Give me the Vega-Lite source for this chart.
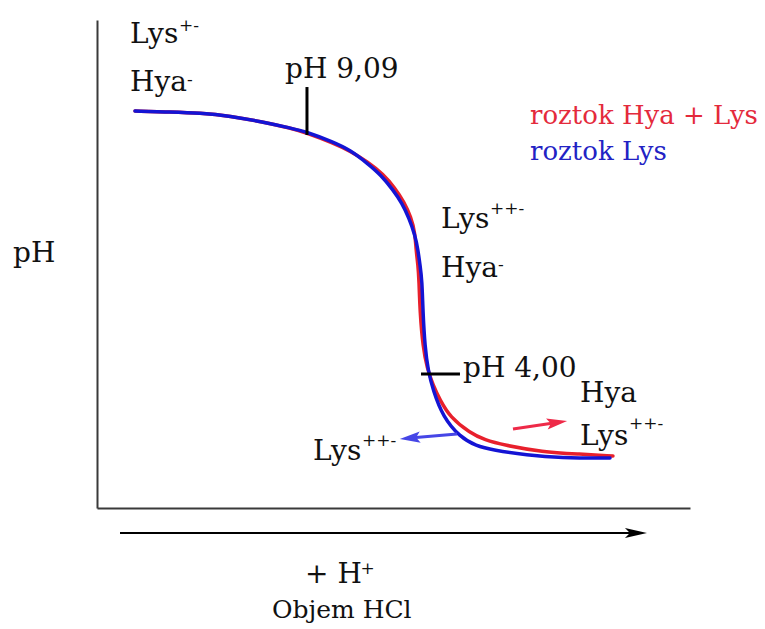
{
  "$schema": "https://vega.github.io/schema/vega-lite/v6.json",
  "width": 593,
  "height": 488,
  "autosize": "none",
  "padding": {"left": 97, "top": 20, "right": 75, "bottom": 121},
  "background": "white",
  "config": {"view": {"stroke": null}, "text": {"font": "DejaVu Serif"}},
  "datasets": {
    "hyalys": [
      {"v": 0.641, "ph": 9.498}, {"v": 1.231, "ph": 9.477}, {"v": 1.737, "ph": 9.456}, {"v": 2.243, "ph": 9.393},
      {"v": 2.799, "ph": 9.268}, {"v": 3.255, "ph": 9.143}, {"v": 3.541, "ph": 9.038}, {"v": 3.98, "ph": 8.829},
      {"v": 4.266, "ph": 8.662}, {"v": 4.57, "ph": 8.432}, {"v": 4.823, "ph": 8.181}, {"v": 5.025, "ph": 7.889},
      {"v": 5.177, "ph": 7.596}, {"v": 5.295, "ph": 7.282}, {"v": 5.363, "ph": 6.948}, {"v": 5.38, "ph": 6.593},
      {"v": 5.413, "ph": 6.279}, {"v": 5.43, "ph": 5.966}, {"v": 5.447, "ph": 5.276}, {"v": 5.497, "ph": 4.565},
      {"v": 5.565, "ph": 4.126}, {"v": 5.666, "ph": 3.771}, {"v": 5.784, "ph": 3.457}, {"v": 5.953, "ph": 3.102},
      {"v": 6.29, "ph": 2.768}, {"v": 6.543, "ph": 2.621}, {"v": 6.847, "ph": 2.517}, {"v": 7.521, "ph": 2.37},
      {"v": 8.094, "ph": 2.329}, {"v": 8.701, "ph": 2.287}
    ],
    "lys": [
      {"v": 0.641, "ph": 9.498}, {"v": 1.231, "ph": 9.477}, {"v": 1.737, "ph": 9.456}, {"v": 2.243, "ph": 9.393},
      {"v": 2.799, "ph": 9.268}, {"v": 3.255, "ph": 9.143}, {"v": 3.541, "ph": 9.059}, {"v": 3.98, "ph": 8.85},
      {"v": 4.266, "ph": 8.683}, {"v": 4.553, "ph": 8.411}, {"v": 4.789, "ph": 8.16}, {"v": 4.992, "ph": 7.847},
      {"v": 5.143, "ph": 7.575}, {"v": 5.261, "ph": 7.261}, {"v": 5.363, "ph": 6.906}, {"v": 5.413, "ph": 6.593},
      {"v": 5.447, "ph": 6.279}, {"v": 5.481, "ph": 5.966}, {"v": 5.497, "ph": 5.276}, {"v": 5.531, "ph": 4.565},
      {"v": 5.582, "ph": 4.084}, {"v": 5.666, "ph": 3.666}, {"v": 5.835, "ph": 3.102}, {"v": 6.121, "ph": 2.684},
      {"v": 6.391, "ph": 2.496}, {"v": 6.678, "ph": 2.412}, {"v": 7.251, "ph": 2.308}, {"v": 7.808, "ph": 2.245},
      {"v": 8.651, "ph": 2.245}
    ],
    "ticks": [
      {"v": 3.541, "ph": 9.999, "v2": 3.541, "ph2": 8.996},
      {"v": 5.464, "ph": 4.001, "v2": 6.121, "ph2": 4.001}
    ],
    "volarrow": [{"v": 0.388, "ph": 0.677, "v2": 9.1, "ph2": 0.677}],
    "volhead": [{"v": 9.089, "ph": 0.677}],
    "bluearrow": [{"v": 6.071, "ph": 2.747, "v2": 5.278, "ph2": 2.663}],
    "bluehead": [{"v": 5.278, "ph": 2.661}],
    "redarrow": [{"v": 7.015, "ph": 2.851, "v2": 7.757, "ph2": 2.987}],
    "redhead": [{"v": 7.757, "ph": 2.987}],
    "labels": [
      {"v": 0.5565, "ph": 10.919, "t": "Lys"},
      {"v": 0.5565, "ph": 9.916, "t": "Hya"},
      {"v": 3.17, "ph": 10.188, "t": "pH 9,09"},
      {"v": 5.801, "ph": 7.053, "t": "Lys"},
      {"v": 5.801, "ph": 6.028, "t": "Hya"},
      {"v": 6.172, "ph": 3.938, "t": "pH 4,00"},
      {"v": 8.145, "ph": 3.416, "t": "Hya"},
      {"v": 8.145, "ph": 2.517, "t": "Lys"},
      {"v": 3.642, "ph": 2.203, "t": "Lys"},
      {"v": 3.508, "ph": -0.368, "t": "+ H"},
      {"v": -1.417, "ph": 6.342, "t": "pH"}
    ],
    "sups": [
      {"v": 1.383, "ph": 11.17, "t": "+-"},
      {"v": 1.518, "ph": 10.041, "t": "-"},
      {"v": 6.627, "ph": 7.345, "t": "++-"},
      {"v": 6.762, "ph": 6.175, "t": "-"},
      {"v": 8.971, "ph": 2.851, "t": "++-"},
      {"v": 4.469, "ph": 2.496, "t": "++-"},
      {"v": 4.445, "ph": -0.18, "t": "+"}
    ],
    "xtitle": [{"v": 2.951, "ph": -1.099, "t": "Objem HCl"}],
    "legred": [{"v": 7.302, "ph": 9.226, "t": "roztok Hya + Lys"}],
    "legblue": [{"v": 7.302, "ph": 8.474, "t": "roztok Lys"}]
  },
  "encoding": {
    "x": {"field": "v", "type": "quantitative", "scale": {"domain": [0, 10], "nice": false, "zero": false},
          "axis": {"title": null, "labels": false, "ticks": false, "grid": false, "domainColor": "#3a3a3a", "domainWidth": 2}},
    "y": {"field": "ph", "type": "quantitative", "scale": {"domain": [1.2, 11.4], "nice": false, "zero": false},
          "axis": {"title": null, "labels": false, "ticks": false, "grid": false, "domainColor": "#3a3a3a", "domainWidth": 2}}
  },
  "layer": [
    {"data": {"name": "hyalys"}, "mark": {"type": "line", "color": "#e8202c", "strokeWidth": 3.5, "interpolate": "basis", "strokeCap": "round"}},
    {"data": {"name": "lys"}, "mark": {"type": "line", "color": "#1414d4", "strokeWidth": 3.5, "interpolate": "basis", "strokeCap": "round"}},
    {"data": {"name": "ticks"}, "mark": {"type": "rule", "color": "#000000", "strokeWidth": 3},
     "encoding": {"x2": {"field": "v2"}, "y2": {"field": "ph2"}}},
    {"data": {"name": "volarrow"}, "mark": {"type": "rule", "color": "#000000", "strokeWidth": 2},
     "encoding": {"x2": {"field": "v2"}, "y2": {"field": "ph2"}}},
    {"data": {"name": "volhead"}, "mark": {"type": "point", "shape": "M1,0 L-1,-0.45 L-0.55,0 L-1,0.45 Z", "size": 484, "filled": true, "color": "#000000", "opacity": 1}},
    {"data": {"name": "bluearrow"}, "mark": {"type": "rule", "color": "#4646e6", "strokeWidth": 3},
     "encoding": {"x2": {"field": "v2"}, "y2": {"field": "ph2"}}},
    {"data": {"name": "bluehead"}, "mark": {"type": "point", "shape": "M1,0 L-1,-0.55 L-0.6,0 L-1,0.55 Z", "size": 420, "filled": true, "color": "#4646e6", "opacity": 1, "angle": 175}},
    {"data": {"name": "redarrow"}, "mark": {"type": "rule", "color": "#ee2a48", "strokeWidth": 3},
     "encoding": {"x2": {"field": "v2"}, "y2": {"field": "ph2"}}},
    {"data": {"name": "redhead"}, "mark": {"type": "point", "shape": "M1,0 L-1,-0.55 L-0.6,0 L-1,0.55 Z", "size": 420, "filled": true, "color": "#ee2a48", "opacity": 1, "angle": 351.6}},
    {"data": {"name": "labels"}, "mark": {"type": "text", "font": "DejaVu Serif", "fontSize": 28, "align": "left", "baseline": "alphabetic", "color": "#111111"},
     "encoding": {"text": {"field": "t"}}},
    {"data": {"name": "sups"}, "mark": {"type": "text", "font": "DejaVu Serif", "fontSize": 17, "align": "left", "baseline": "alphabetic", "color": "#111111"},
     "encoding": {"text": {"field": "t"}}},
    {"data": {"name": "xtitle"}, "mark": {"type": "text", "font": "DejaVu Serif", "fontSize": 25, "align": "left", "baseline": "alphabetic", "color": "#111111"},
     "encoding": {"text": {"field": "t"}}},
    {"data": {"name": "legred"}, "mark": {"type": "text", "font": "DejaVu Serif", "fontSize": 26, "align": "left", "baseline": "alphabetic", "color": "#e42a3c"},
     "encoding": {"text": {"field": "t"}}},
    {"data": {"name": "legblue"}, "mark": {"type": "text", "font": "DejaVu Serif", "fontSize": 26, "align": "left", "baseline": "alphabetic", "color": "#2222c4"},
     "encoding": {"text": {"field": "t"}}}
  ]
}
